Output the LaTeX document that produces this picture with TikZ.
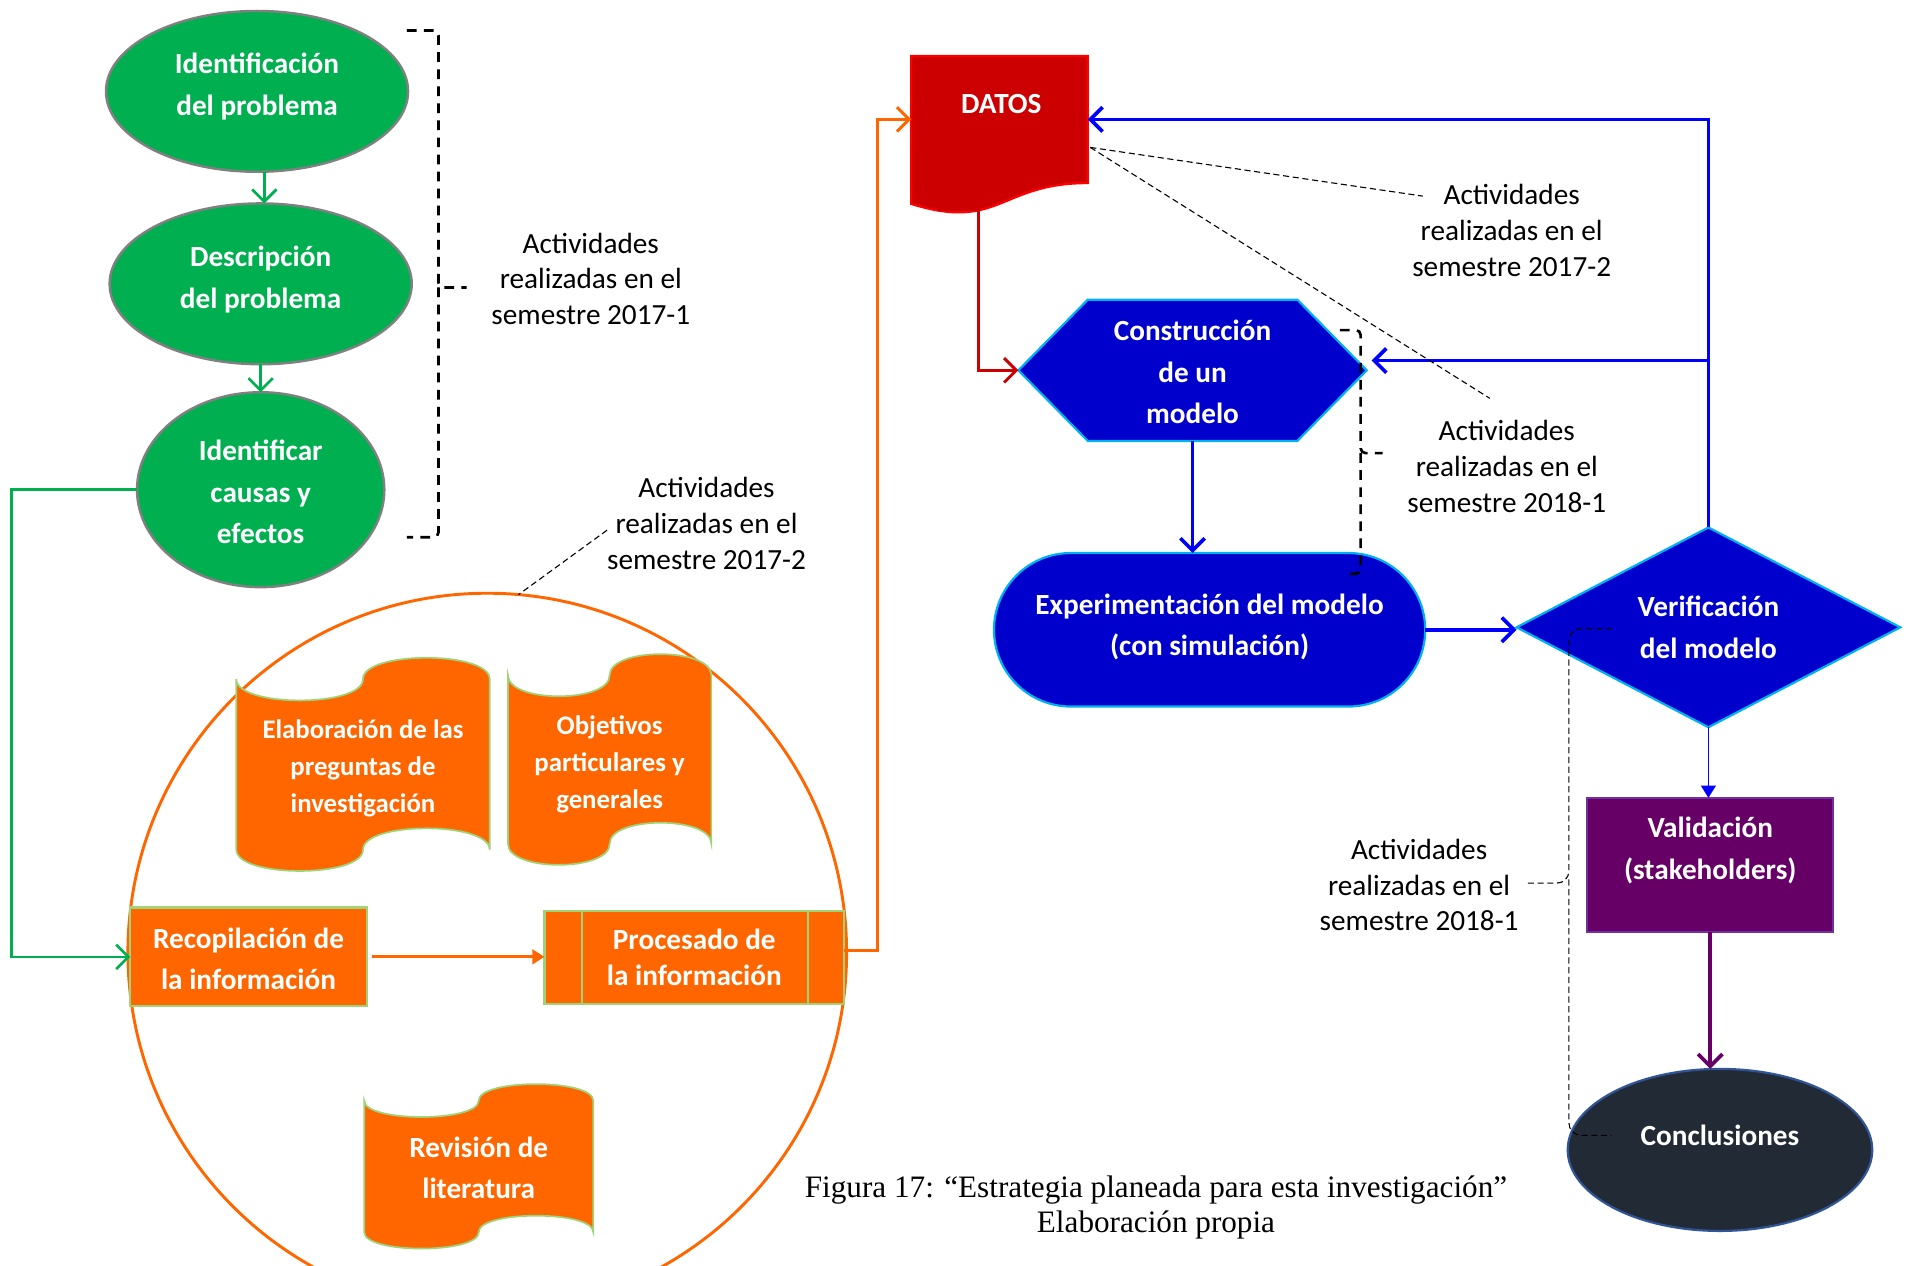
\documentclass[tikz,border=0pt]{standalone}
\usepackage{fontspec}
\setmainfont{Carlito}
\newfontfamily\capfont{Liberation Serif}
\usetikzlibrary{arrows.meta,shapes.geometric,shapes.misc,calc}

% one drawing unit = 0.5pt; lengths for node sizes use the same unit
\newdimen\pxu \pxu=0.5pt

\definecolor{ogreen}{RGB}{0,176,80}
\definecolor{ogray}{RGB}{128,128,128}
\definecolor{oorange}{RGB}{255,102,0}
\definecolor{paleg}{RGB}{160,210,120}
\definecolor{dred}{RGB}{204,0,0}
\definecolor{bred}{RGB}{255,0,0}
\definecolor{dblue}{RGB}{0,0,204}
\definecolor{cyanb}{RGB}{0,176,240}
\definecolor{lblue}{RGB}{0,0,255}
\definecolor{plum}{RGB}{102,0,102}
\definecolor{lplum}{RGB}{112,48,160}
\definecolor{slate}{RGB}{34,42,53}
\definecolor{slateb}{RGB}{47,85,151}

% punched-tape outline: left, top, width, height
\newcommand\punchtape[4]{%
  \path[tapefill] ({#1},{#2+0.1*#4})
    .. controls ({#1},{#2+0.2333*#4}) and ({#1+0.5*#3},{#2+0.2333*#4}) .. ({#1+0.5*#3},{#2+0.1*#4})
    .. controls ({#1+0.5*#3},{#2-0.0333*#4}) and ({#1+#3},{#2-0.0333*#4}) .. ({#1+#3},{#2+0.1*#4})
    -- ({#1+#3},{#2+0.9*#4})
    .. controls ({#1+#3},{#2+0.7667*#4}) and ({#1+0.5*#3},{#2+0.7667*#4}) .. ({#1+0.5*#3},{#2+0.9*#4})
    .. controls ({#1+0.5*#3},{#2+1.0333*#4}) and ({#1},{#2+1.0333*#4}) .. ({#1},{#2+0.9*#4})
    -- cycle;}

\begin{document}
\begin{tikzpicture}[x=0.5pt, y=-0.5pt,
  every node/.style={inner sep=0pt, outer sep=0pt},
  boldw/.style={text=white, font=\bfseries\fontsize{12}{17}\selectfont, align=center},
  tapew/.style={text=white, font=\bfseries\fontsize{11}{15.25}\selectfont, align=center},
  note/.style={font=\fontsize{12}{14.75}\selectfont, align=center},
  greenell/.style={ellipse, fill=ogreen, draw=ogray, line width=1pt},
  orbox/.style={rectangle, fill=oorange, draw=paleg, line width=0.9pt},
  tapefill/.style={fill=oorange, draw=paleg, line width=0.7pt},
  blueshape/.style={fill=dblue, draw=cyanb, line width=0.9pt},
  gline/.style={draw=ogreen, line width=1.1pt},
  oline/.style={draw=oorange, line width=1.2pt},
  rline/.style={draw=dred, line width=1.2pt},
  bline/.style={draw=lblue, line width=1.5pt},
  pline/.style={draw=plum, line width=1.5pt},
  brack/.style={draw=black, line width=1.1pt, dash pattern=on 4pt off 3pt},
  thindash/.style={draw=black, line width=0.45pt, dash pattern=on 2.5pt off 1.5pt},
  barb/.style={-{Straight Barb[length=5pt,width=10pt]}},
  tri/.style={-{Triangle[length=5pt,width=6pt]}}]

\path[use as bounding box, fill=white] (0,0) rectangle (1568,1039);
\clip (0,0) rectangle (1568,1039);

% ---------- left column: problem definition ----------
\node[greenell, minimum width=248\pxu, minimum height=132\pxu] (e1) at (211,75) {};
\node[boldw] (e1t) at (211,71) {Identificación\\del problema};
\node[greenell, minimum width=248\pxu, minimum height=132\pxu] (e2) at (214,233) {};
\node[boldw] (e2t) at (214,229.5) {Descripción\\del problema};
\node[greenell, minimum width=203\pxu, minimum height=160\pxu] (e3) at (214,402) {};
\node[boldw] (e3t) at (214,404) {Identificar\\causas y\\efectos};

\coordinate (g1) at ($(e1.south)+(6,0)$);
\draw[gline, barb] (g1) -- (g1 |- e2.north);
\draw[gline, barb] (e2.south) -- (e2.south |- e3.north);

% ---------- information stage (circle) ----------
\node[circle, draw=oorange, line width=1.2pt, minimum size=590\pxu] (circ) at (400,782) {};

\punchtape{194}{540}{208}{175}
\node[tapew] (t1) at (298,630.5) {Elaboración de las\\preguntas de\\investigación};
\punchtape{417}{537}{167}{173}
\node[tapew] (t2) at (500.5,627.5) {Objetivos\\particulares y\\generales};
\punchtape{299}{890}{188}{135}
\node[boldw] (t3) at (393,958.5) {Revisión de\\literatura};

\node[orbox, minimum width=194\pxu, minimum height=81\pxu] (recop) at (204,785.5) {};
\node[boldw] (recopt) at (204,787) {Recopilación de\\la información};
\node[orbox, boldw, font=\bfseries\fontsize{12}{15}\selectfont, minimum width=246\pxu, minimum height=76\pxu] (proc) at (570,786) {Procesado de\\la información};
\draw[draw=paleg, line width=0.9pt] ($(proc.north west)+(31,0)$) -- ($(proc.south west)+(31,0)$);
\draw[draw=paleg, line width=0.9pt] ($(proc.north east)+(-30,0)$) -- ($(proc.south east)+(-30,0)$);

\draw[gline, barb] (e3.west) -- ++(-103,0) |- (recop.west);
\draw[oline, tri, shorten <=2pt] (recop.east) -- (recop.east -| proc.west);

% ---------- right column: model stage ----------
\path[fill=dred, draw=bred, line width=0.9pt] (748,46) -- (893,46) -- (893,150.3)
  .. controls (820.5,150.3) and (820.5,190) .. (748,167.4) -- cycle;
\node[minimum width=145\pxu, minimum height=104\pxu] (datos) at (820.5,98) {};
\node[boldw] (datost) at (822,85) {DATOS};

\path[blueshape] (836,304) -- (893,246) -- (1065,246) -- (1122,304) -- (1065,362) -- (893,362) -- cycle;
\node[minimum width=286\pxu, minimum height=116\pxu] (hex) at (979,304) {};
\node[boldw] (hext) at (979,305.5) {Construcción\\de un\\modelo};

\node[rounded rectangle, blueshape, minimum width=354\pxu, minimum height=126\pxu] (exp) at (993,517) {};
\node[boldw] (expt) at (993,514.5) {Experimentación del modelo\\(con simulación)};

\path[blueshape] (1245,515) -- (1402.5,433) -- (1560,515) -- (1402.5,597) -- cycle;
\node[boldw, minimum width=315\pxu, minimum height=164\pxu] (verif) at (1402.5,515) {Verificación\\del modelo};

\node[rectangle, fill=plum, draw=lplum, line width=0.9pt, minimum width=202\pxu, minimum height=110\pxu] (val) at (1404,710) {};
\node[boldw] (valt) at (1404,698) {Validación\\(stakeholders)};

\node[ellipse, fill=slate, draw=slateb, line width=0.9pt, minimum width=250\pxu, minimum height=133\pxu] (concl) at (1412,944) {};
\node[boldw] (conclt) at (1412,932) {Conclusiones};

% connectors
\draw[oline, barb] ($(proc.east)+(0,-6)$) -- ++(27,0) |- (datos.west);
\coordinate (dstub) at (769,172);
\draw[rline, barb] (dstub) -- ++(34,0) |- (hex.west);
\draw[bline, barb] (hex.south) -- (hex.south |- exp.north);
\draw[bline, barb] (exp.east) -- (exp.east -| verif.west);
\draw[bline, barb] (verif.north) |- (datos.east);
\coordinate (jn) at (verif.north |- 0,296);
\draw[bline, barb, shorten >=2pt] (jn) -- (jn -| hex.east);
\draw[draw=lblue, line width=0.7pt, tri] (verif.south) -- (verif.south |- val.north);
\draw[pline, barb] (val.south) -- (val.south |- concl.north);

% ---------- semester notes ----------
\node[note] (a1) at (485,229) {Actividades\\realizadas en el\\semestre 2017-1};
\node[note] (a2) at (580,429.5) {Actividades\\realizadas en el\\semestre 2017-2};
\node[note] (a3) at (1241,189.5) {Actividades\\realizadas en el\\semestre 2017-2};
\node[note] (a4) at (1237,383) {Actividades\\realizadas en el\\semestre 2018-1};
\node[note] (a5) at (1165,726.5) {Actividades\\realizadas en el\\semestre 2018-1};

\draw[brack, rounded corners=2pt] (334,25) -- (360,25) -- (360,236) -- (383,236);
\draw[brack, rounded corners=2pt] (360,236) -- (360,441) -- (334,441);

\draw[brack, rounded corners=2pt] (1100,271) -- (1117,271) -- (1117,372) -- (1135,372);
\draw[brack, rounded corners=2pt] (1117,372) -- (1117,471) -- (1103,471);

\draw[thindash] (a2.184) -- (circ.85);

\coordinate (dnote) at (895,121);
\coordinate (a3tip) at (1168,161);
\coordinate (a4tip) at (1223,327);
\draw[thindash] (dnote) -- (a3tip);
\draw[thindash] (dnote) -- (a4tip);

\coordinate (b3top) at (1323,516);
\coordinate (b3bot) at (1323,932);
\draw[thindash, rounded corners=5pt] (b3top) -- (1288,516) -- (1288,725) -- ($(a5.east)+(5,-1.5)$);
\draw[thindash, rounded corners=5pt] (1288,722) -- (1288,932) -- (b3bot);

% ---------- caption ----------
\node[font=\capfont\fontsize{12.8}{14.5}\selectfont, align=center] (cap) at (949,991.5)
  {Figura 17: “Estrategia planeada para esta investigación”\\Elaboración propia};

\end{tikzpicture}
\end{document}
